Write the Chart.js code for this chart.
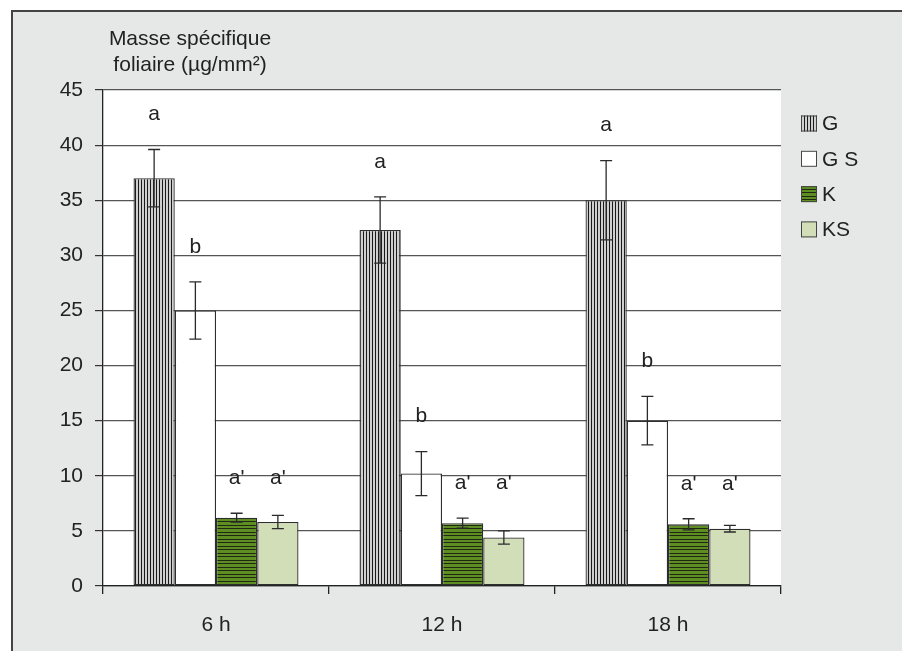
<!DOCTYPE html>
<html>
<head>
<meta charset="utf-8">
<script src="https://cdn.jsdelivr.net/npm/chart.js@4"></script>
<style>
  html, body { margin: 0; padding: 0; background: #fff; }
  canvas { display: block; }
</style>
</head>
<body>
<canvas id="massChart" width="902" height="651"></canvas>
<script>
// values
const categories = ['6 h', '12 h', '18 h'];
const seriesNames = ['G', 'G S', 'K', 'KS'];
const gValues = [37, 32.3, 35];
const gsValues = [25, 10.2, 15];
const kValues = [6.2, 5.7, 5.6];
const ksValues = [5.8, 4.4, 5.2];
const gErrors = [2.6, 3.0, 3.6];
const gsErrors = [2.6, 2.0, 2.2];
const kErrors = [0.4, 0.45, 0.5];
const ksErrors = [0.6, 0.6, 0.3];
const gLetters = ['a', 'a', 'a'];
const gsLetters = ['b', 'b', 'b'];
const kLetters = ["a'", "a'", "a'"];
const ksLetters = ["a'", "a'", "a'"];
const yMin = 0, yMax = 45, yStep = 5;
const yTitle = ['Masse spécifique', 'foliaire (µg/mm²)'];

const FONT = "'Liberation Sans', Arial, Helvetica, sans-serif";
const FSIZE = 21;

// small tiles for the hatched fills
function makePattern(w, h, draw) {
  const c = document.createElement('canvas');
  c.width = w; c.height = h;
  const g = c.getContext('2d');
  draw(g);
  return g.createPattern(c, 'repeat');
}
const ctx = document.getElementById('massChart').getContext('2d');
const gFill = makePattern(3, 1, g => {
  g.fillStyle = '#cfcfcf'; g.fillRect(0, 0, 3, 1);
  g.fillStyle = '#1a1a1a'; g.fillRect(0, 0, 1, 1);
});
const kFill = makePattern(1, 7, g => {
  g.fillStyle = '#5e8d22'; g.fillRect(0, 0, 1, 7);
  g.fillStyle = '#1f2812'; g.fillRect(0, 0, 1, 1); g.fillRect(0, 3, 1, 1);
});

const frame = {
  id: 'frame',
  beforeDraw(chart) {
    const c = chart.ctx, a = chart.chartArea;
    c.save();
    c.fillStyle = '#fff';
    c.fillRect(0, 0, chart.width, chart.height);
    c.fillStyle = '#e6e7e7';
    c.fillRect(11, 10, chart.width - 11, chart.height - 10);
    c.strokeStyle = '#444';
    c.lineWidth = 2;
    c.beginPath();
    c.moveTo(12, chart.height); c.lineTo(12, 11); c.lineTo(chart.width, 11);
    c.stroke();
    c.fillStyle = '#fff';
    c.fillRect(a.left, a.top, a.right - a.left, a.bottom - a.top);
    c.fillStyle = '#222';
    c.font = FSIZE + 'px ' + FONT;
    c.textAlign = 'center';
    c.textBaseline = 'alphabetic';
    c.fillText(yTitle[0], 190, 45);
    c.fillText(yTitle[1], 190, 71);
    c.restore();
  }
};

const errorBars = {
  id: 'errorBars',
  afterDatasetsDraw(chart) {
    const c = chart.ctx, y = chart.scales.y;
    const ds = chart.data.datasets;
    c.save();
    c.strokeStyle = '#2b2b2b';
    c.lineWidth = 1.3;
    c.fillStyle = '#222';
    c.font = FSIZE + 'px ' + FONT;
    c.textAlign = 'center';
    c.textBaseline = 'middle';
    ds.forEach((d, i) => {
      chart.getDatasetMeta(i).data.forEach((bar, j) => {
        const v = d.data[j], e = d.errors[j];
        const top = y.getPixelForValue(v + e);
        const bot = y.getPixelForValue(v - e);
        c.beginPath();
        c.moveTo(bar.x, top); c.lineTo(bar.x, bot);
        c.moveTo(bar.x - 6, top); c.lineTo(bar.x + 6, top);
        c.moveTo(bar.x - 6, bot); c.lineTo(bar.x + 6, bot);
        c.stroke();
        // K and KS share one letter height per group
        let ref = v + e;
        if (i >= 2) ref = Math.max(ds[2].data[j] + ds[2].errors[j], ds[3].data[j] + ds[3].errors[j]);
        c.fillText(d.letters[j], bar.x, y.getPixelForValue(ref) - 35);
      });
    });
    c.restore();
  }
};

const sideLegend = {
  id: 'sideLegend',
  afterDraw(chart) {
    const c = chart.ctx;
    c.save();
    c.font = FSIZE + 'px ' + FONT;
    c.textAlign = 'left';
    c.textBaseline = 'middle';
    chart.data.datasets.forEach((ds, i) => {
      const cy = 123.5 + i * 35.3;
      c.fillStyle = ds.backgroundColor;
      c.fillRect(801, cy - 8, 16, 16);
      c.strokeStyle = '#444';
      c.lineWidth = 1;
      c.strokeRect(801.5, cy - 7.5, 15, 15);
      c.fillStyle = '#222';
      c.fillText(ds.label, 822, cy + 1);
    });
    c.restore();
  }
};

new Chart(ctx, {
  type: 'bar',
  data: {
    labels: categories,
    datasets: [
      { label: seriesNames[0], data: gValues, errors: gErrors, letters: gLetters, backgroundColor: gFill },
      { label: seriesNames[1], data: gsValues, errors: gsErrors, letters: gsLetters, backgroundColor: '#ffffff' },
      { label: seriesNames[2], data: kValues, errors: kErrors, letters: kLetters, backgroundColor: kFill },
      { label: seriesNames[3], data: ksValues, errors: ksErrors, letters: ksLetters, backgroundColor: '#d2deb8' }
    ]
  },
  options: {
    responsive: false,
    animation: false,
    devicePixelRatio: 1,
    layout: { padding: { left: 0, top: 90, right: 121, bottom: 0 } },
    datasets: {
      bar: { borderColor: '#2e2e2e', borderWidth: 1.3, borderSkipped: false, categoryPercentage: 0.73, barPercentage: 1 }
    },
    plugins: { legend: { display: false }, tooltip: { enabled: false } },
    scales: {
      x: {
        afterFit: s => { s.height = 65; },
        grid: { offset: true, drawOnChartArea: false, drawTicks: true, tickLength: 8, color: '#222', lineWidth: 1.3 },
        border: { display: true, color: '#222', width: 1.3 },
        ticks: { padding: 19, color: '#222', font: { family: FONT, size: FSIZE } }
      },
      y: {
        min: yMin, max: yMax,
        afterFit: s => { s.width = 103; },
        grid: { color: '#555', lineWidth: 1.2, drawTicks: true, tickLength: 8, tickColor: '#333' },
        border: { display: true, color: '#222', width: 1.3 },
        ticks: { stepSize: yStep, padding: 12, color: '#222', font: { family: FONT, size: FSIZE } }
      }
    }
  },
  plugins: [frame, errorBars, sideLegend]
});
</script>
</body>
</html>
